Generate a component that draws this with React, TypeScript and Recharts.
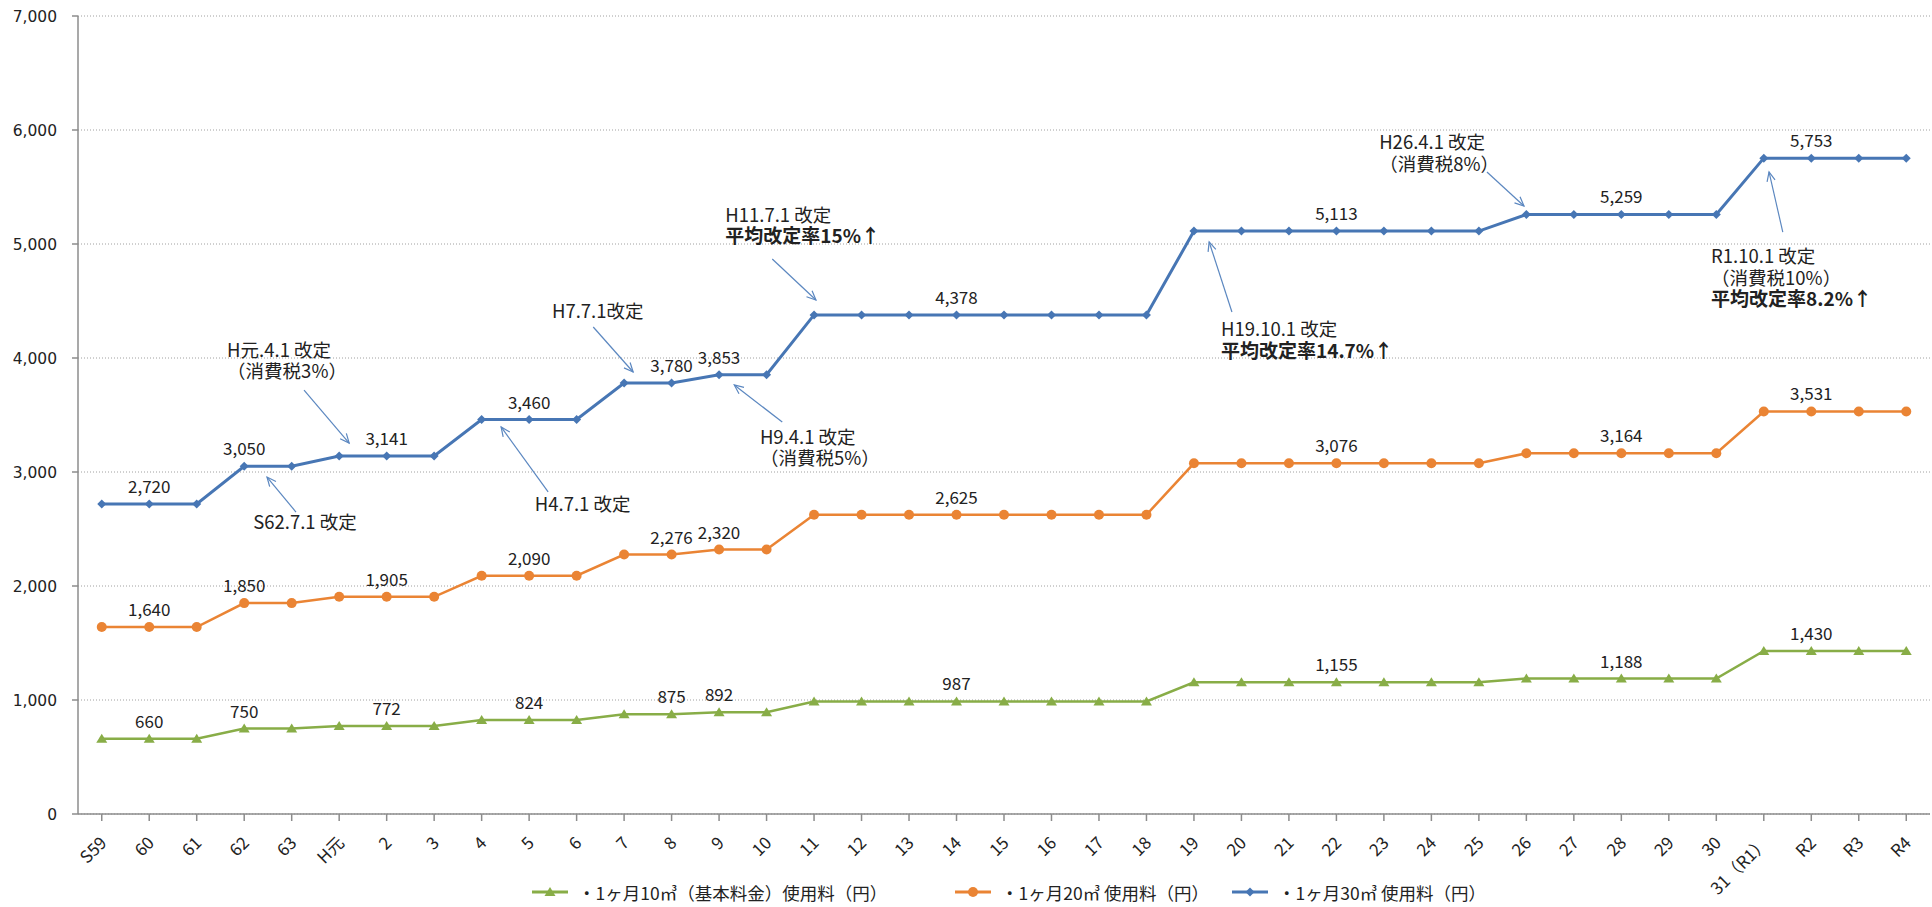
import { LineChart, Line, XAxis, YAxis, CartesianGrid, Legend, LabelList, ReferenceLine, ReferenceDot } from 'recharts';

// 年度（S59 〜 R4）
const categories = [
  'S59', '60', '61', '62', '63', 'H元', '2', '3', '4', '5',
  '6', '7', '8', '9', '10', '11', '12', '13', '14', '15',
  '16', '17', '18', '19', '20', '21', '22', '23', '24', '25',
  '26', '27', '28', '29', '30', '31（R1）', 'R2', 'R3', 'R4',
];

// 1ヶ月10㎥（基本料金）
const fee10 = [
  660, 660, 660, 750, 750, 772, 772, 772, 824, 824,
  824, 875, 875, 892, 892, 987, 987, 987, 987, 987,
  987, 987, 987, 1155, 1155, 1155, 1155, 1155, 1155, 1155,
  1188, 1188, 1188, 1188, 1188, 1430, 1430, 1430, 1430,
];

// 1ヶ月20㎥
const fee20 = [
  1640, 1640, 1640, 1850, 1850, 1905, 1905, 1905, 2090, 2090,
  2090, 2276, 2276, 2320, 2320, 2625, 2625, 2625, 2625, 2625,
  2625, 2625, 2625, 3076, 3076, 3076, 3076, 3076, 3076, 3076,
  3164, 3164, 3164, 3164, 3164, 3531, 3531, 3531, 3531,
];

// 1ヶ月30㎥
const fee30 = [
  2720, 2720, 2720, 3050, 3050, 3141, 3141, 3141, 3460, 3460,
  3460, 3780, 3780, 3853, 3853, 4378, 4378, 4378, 4378, 4378,
  4378, 4378, 4378, 5113, 5113, 5113, 5113, 5113, 5113, 5113,
  5259, 5259, 5259, 5259, 5259, 5753, 5753, 5753, 5753,
];

// 数値ラベルを付ける年度
const labelIndex = [1, 3, 6, 9, 12, 13, 18, 26, 32, 36];

const yTicks = [0, 1000, 2000, 3000, 4000, 5000, 6000, 7000];

// 改定の注記（x = 年度インデックス, y = 金額）
const notes = [
  { x: 2.64, y: 4070, lines: ['H元.4.1 改定', '（消費税3%）'], boldFrom: 9 },
  { x: 3.19, y: 2553, lines: ['S62.7.1 改定'], boldFrom: 9 },
  { x: 9.12, y: 2711, lines: ['H4.7.1 改定'], boldFrom: 9 },
  { x: 9.48, y: 4412, lines: ['H7.7.1改定'], boldFrom: 9 },
  { x: 13.86, y: 3307, lines: ['H9.4.1 改定', '（消費税5%）'], boldFrom: 9 },
  { x: 13.13, y: 5254, lines: ['H11.7.1 改定', '平均改定率15%↑'], boldFrom: 1 },
  { x: 23.57, y: 4246, lines: ['H19.10.1 改定', '平均改定率14.7%↑'], boldFrom: 1 },
  { x: 26.9, y: 5886, lines: ['H26.4.1 改定', '（消費税8%）'], boldFrom: 9 },
  { x: 33.89, y: 4886, lines: ['R1.10.1 改定', '（消費税10%）', '平均改定率8.2%↑'], boldFrom: 2 },
];

// 注記の矢印（始点 → 先端）
const arrows = [
  { x1: 4.26, y1: 3719, x2: 5.21, y2: 3254 },
  { x1: 4.09, y1: 2649, x2: 3.48, y2: 2956 },
  { x1: 9.4, y1: 2825, x2: 8.41, y2: 3395 },
  { x1: 10.35, y1: 4272, x2: 11.19, y2: 3877 },
  { x1: 14.33, y1: 3439, x2: 13.32, y2: 3763 },
  { x1: 14.12, y1: 4868, x2: 15.04, y2: 4509 },
  { x1: 23.8, y1: 4404, x2: 23.32, y2: 5018 },
  { x1: 29.17, y1: 5632, x2: 29.95, y2: 5333 },
  { x1: 35.4, y1: 5105, x2: 35.11, y2: 5632 },
];

const JP = '"Noto Sans CJK JP", "Noto Sans", sans-serif';
const BLUE = '#4776b4';
const ORANGE = '#ea8434';
const GREEN = '#88ad47';
const ARROW = '#5b87c0';

const data = categories.map((c, i) => ({ i, name: c, fee10: fee10[i], fee20: fee20[i], fee30: fee30[i] }));

const fmt = (v: number) => v.toLocaleString('en-US');

const Diamond = (p: any) => {
  const { cx, cy } = p;
  if (cx == null || cy == null) return null;
  return <path d={`M${cx},${cy - 4.5}L${cx + 4.5},${cy}L${cx},${cy + 4.5}L${cx - 4.5},${cy}Z`} fill={BLUE} />;
};
const Circle = (p: any) => {
  const { cx, cy } = p;
  if (cx == null || cy == null) return null;
  return <circle cx={cx} cy={cy} r={5} fill={ORANGE} />;
};
const Triangle = (p: any) => {
  const { cx, cy } = p;
  if (cx == null || cy == null) return null;
  return <path d={`M${cx},${cy - 5}L${cx + 5.5},${cy + 4}L${cx - 5.5},${cy + 4}Z`} fill={GREEN} />;
};

const pointLabel = (p: any) => {
  const { x, y, value, index } = p;
  if (!labelIndex.includes(index)) return null;
  return (
    <text x={x} y={y - 11} textAnchor="middle" fontSize={17} fontFamily={JP} fill="#222">
      {fmt(value)}
    </text>
  );
};

const XTick = (p: any) => {
  const { x, y, payload } = p;
  const ax = x + 6;
  const ay = y + 21;
  return (
    <text x={ax} y={ay} transform={`rotate(-45, ${ax}, ${ay})`} textAnchor="end" fontSize={17} fontFamily={JP} fill="#222">
      {categories[payload.value]}
    </text>
  );
};

const ArrowShape = (p: any) => {
  const { x1, y1, x2, y2 } = p;
  if ([x1, y1, x2, y2].some((v) => v == null)) return null;
  const ang = Math.atan2(y2 - y1, x2 - x1);
  const len = 10;
  const spread = 0.42;
  const ax = x2 - len * Math.cos(ang - spread);
  const ay = y2 - len * Math.sin(ang - spread);
  const bx = x2 - len * Math.cos(ang + spread);
  const by = y2 - len * Math.sin(ang + spread);
  return (
    <g>
      <line x1={x1} y1={y1} x2={x2} y2={y2} stroke={ARROW} strokeWidth={1.2} />
      <polyline points={`${ax},${ay} ${x2},${y2} ${bx},${by}`} fill="none" stroke={ARROW} strokeWidth={1.2} />
    </g>
  );
};

const noteShape = (lines: string[], boldFrom: number) => (p: any) => {
  const { cx, cy } = p;
  if (cx == null || cy == null) return null;
  return (
    <text x={cx} y={cy + 6.5} fontSize={18.5} fontFamily={JP} fill="#222">
      {lines.map((t, k) => (
        <tspan key={k} x={cx} dy={k === 0 ? 0 : 21.5} fontWeight={k >= boldFrom ? 700 : 400} fontSize={k >= boldFrom ? 19 : 18.5}>
          {t}
        </tspan>
      ))}
    </text>
  );
};

const legendItems = [
  { name: '・1ヶ月10㎥（基本料金）使用料（円）', color: GREEN, shape: 'triangle', left: 532 },
  { name: '・1ヶ月20㎥ 使用料（円）', color: ORANGE, shape: 'circle', left: 955 },
  { name: '・1ヶ月30㎥ 使用料（円）', color: BLUE, shape: 'diamond', left: 1232 },
];

const LegendContent = () => (
  <div style={{ position: 'relative', height: 30, fontFamily: JP, fontSize: 17.5, color: '#222' }}>
    {legendItems.map((it) => (
      <div key={it.name} style={{ position: 'absolute', left: it.left, top: 0, height: 30, display: 'flex', alignItems: 'center' }}>
        <svg width={36} height={14} style={{ marginRight: 10 }}>
          <line x1={0} y1={7} x2={36} y2={7} stroke={it.color} strokeWidth={3} />
          {it.shape === 'triangle' && <path d="M18,2L23.5,11L12.5,11Z" fill={it.color} />}
          {it.shape === 'circle' && <circle cx={18} cy={7} r={5} fill={it.color} />}
          {it.shape === 'diamond' && <path d="M18,2.5L22.5,7L18,11.5L13.5,7Z" fill={it.color} />}
        </svg>
        <span style={{ whiteSpace: 'nowrap' }}>{it.name}</span>
      </div>
    ))}
  </div>
);

export default function App() {
  return (
    <div style={{ position: 'absolute', left: 0, top: 0, width: 1932, height: 907, background: '#fff' }}>
      <LineChart width={1932} height={907} data={data} margin={{ top: 16, right: 2, left: 0, bottom: 0 }}>
        <CartesianGrid vertical={false} stroke="#a0a0a0" strokeDasharray="1 2" />
        <XAxis
          dataKey="i"
          type="number"
          domain={[-0.5, 38.5]}
          ticks={categories.map((_, i) => i)}
          interval={0}
          height={63}
          tick={<XTick />}
          tickSize={7}
          stroke="#8c8c8c"
          strokeWidth={1.5}
        />
        <YAxis
          width={78}
          domain={[0, 7000]}
          ticks={yTicks}
          tickFormatter={fmt}
          tickSize={6}
          tickMargin={15}
          stroke="#8c8c8c"
          strokeWidth={1.5}
          tick={{ fill: '#222', fontSize: 15.5, fontFamily: '"DejaVu Sans", sans-serif' }}
        />
        <Legend verticalAlign="bottom" height={30} content={<LegendContent />} />
        {arrows.map((a, k) => (
          <ReferenceLine key={`a${k}`} segment={[{ x: a.x1, y: a.y1 }, { x: a.x2, y: a.y2 }]} shape={ArrowShape} ifOverflow="visible" />
        ))}
        {notes.map((n, k) => (
          <ReferenceDot key={`n${k}`} x={n.x} y={n.y} r={0} shape={noteShape(n.lines, n.boldFrom)} ifOverflow="visible" />
        ))}
        <Line dataKey="fee10" stroke={GREEN} strokeWidth={2.5} dot={<Triangle />} activeDot={false} isAnimationActive={false}>
          <LabelList dataKey="fee10" content={pointLabel} />
        </Line>
        <Line dataKey="fee20" stroke={ORANGE} strokeWidth={2.5} dot={<Circle />} activeDot={false} isAnimationActive={false}>
          <LabelList dataKey="fee20" content={pointLabel} />
        </Line>
        <Line dataKey="fee30" stroke={BLUE} strokeWidth={3} dot={<Diamond />} activeDot={false} isAnimationActive={false}>
          <LabelList dataKey="fee30" content={pointLabel} />
        </Line>
      </LineChart>
    </div>
  );
}
